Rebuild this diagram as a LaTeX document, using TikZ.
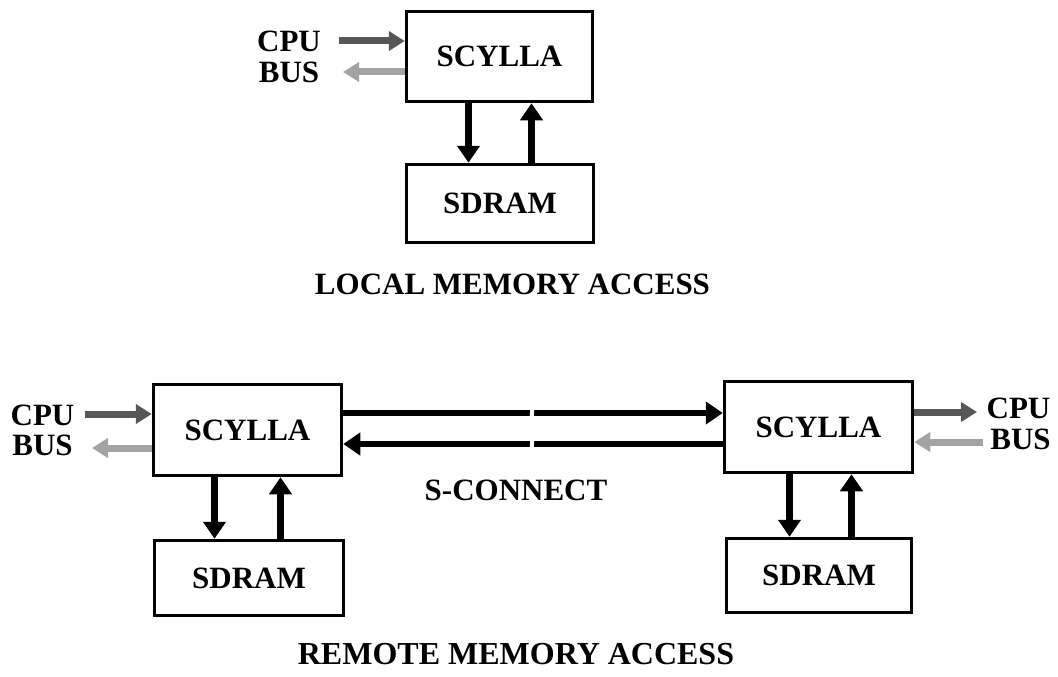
\documentclass[tikz,border=0pt]{standalone}
\usepackage{fontspec}
\setmainfont{Liberation Serif}
\usetikzlibrary{arrows.meta}
\begin{document}
\begin{tikzpicture}[x=1pt,y=-1pt,
  every node/.style={font=\fontsize{31}{31}\selectfont\bfseries, inner sep=0pt},
  block/.style={draw=black, line width=3.5pt, fill=white},
  link/.style={line width=6.5pt, -{Triangle[length=17pt,width=22pt]}},
  busout/.style={line width=7pt, draw=black!66, -{Triangle[length=16pt,width=19pt]}},
  busin/.style={line width=7pt, draw=black!36, -{Triangle[length=16pt,width=19pt]}},
  gap/.style={fill=white, draw=none}]
\useasboundingbox (0,0) rectangle (1058,677);

% ---- local access ----
\node[block, minimum width=186pt, minimum height=90pt] (tsc) at (499.5,56.5) {SCYLLA};
\node[block, minimum width=187pt, minimum height=78pt] (tsd) at (500,203.5) {SDRAM};
\draw[link] ([xshift=-31pt]tsc.south) -- ([xshift=-31pt]tsc.south |- tsd.north);
\draw[link] ([xshift=32pt]tsc.south |- tsd.north) -- ([xshift=32pt]tsc.south);

\node (tcpu) at (289,41) {CPU};
\node (tbus) at (289,72) {BUS};
\coordinate (tin) at (339,41);
\coordinate (tout) at (343,72);
\draw[busout] (tin) -- (tin -| tsc.west);
\draw[busin] (tout -| tsc.west) -- (tout);

\node (local) at (512.5,284) {LOCAL MEMORY ACCESS};

% ---- remote access ----
\node[block, minimum width=188pt, minimum height=91pt] (lsc) at (247.5,430) {SCYLLA};
\node[block, minimum width=189pt, minimum height=75pt] (lsd) at (249,578) {SDRAM};
\node[block, minimum width=188pt, minimum height=91pt] (rsc) at (818.5,427) {SCYLLA};
\node[block, minimum width=185pt, minimum height=74pt] (rsd) at (819,575.5) {SDRAM};

\draw[link] ([xshift=-33pt]lsc.south) -- ([xshift=-33pt]lsc.south |- lsd.north);
\draw[link] ([xshift=33pt]lsc.south |- lsd.north) -- ([xshift=33pt]lsc.south);
\draw[link] ([xshift=-29pt]rsc.south) -- ([xshift=-29pt]rsc.south |- rsd.north);
\draw[link] ([xshift=33pt]rsc.south |- rsd.north) -- ([xshift=33pt]rsc.south);

% S-connect pair with a break mark in the middle
\draw[link] ([yshift=17pt]lsc.east) -- ([yshift=17pt]lsc.east -| rsc.west);
\draw[link] ([yshift=-17pt]rsc.west) -- ([yshift=-17pt]rsc.west -| lsc.east);
\fill[gap] (530.5,407) -- (534.5,407) -- (533.5,419) -- (529.5,419) -- cycle;
\fill[gap] (530.5,438) -- (534.5,438) -- (533.5,450) -- (529.5,450) -- cycle;
\node (scon) at (516,490) {S-CONNECT};

\node (lcpu) at (42.5,415) {CPU};
\node (lbus) at (42.5,445) {BUS};
\coordinate (lin) at (85,414);
\coordinate (lout) at (92,448);
\draw[busout] (lin) -- (lin -| lsc.west);
\draw[busin] (lout -| lsc.west) -- (lout);

\node (rcpu) at (1018.5,408) {CPU};
\node (rbus) at (1020.5,439) {BUS};
\coordinate (rout) at (977,412);
\coordinate (rin) at (983,442);
\draw[busout] (rout -| rsc.east) -- (rout);
\draw[busin] (rin) -- (rin -| rsc.east);

\node[font=\fontsize{32}{32}\selectfont\bfseries] (remote) at (516,654) {REMOTE MEMORY ACCESS};
\end{tikzpicture}
\end{document}
